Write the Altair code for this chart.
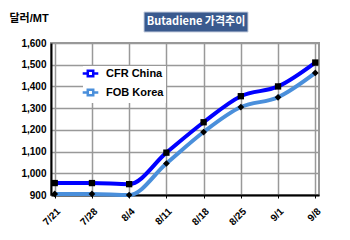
import altair as alt
import pandas as pd

dates = ["7/21", "7/28", "8/4", "8/11", "8/18", "8/25", "9/1", "9/8"]
cfr_china = [955, 955, 950, 1095, 1235, 1355, 1400, 1510]
fob_korea = [905, 905, 900, 1045, 1190, 1305, 1350, 1462]
series_names = ["CFR China", "FOB Korea"]
series_colors = ["#0000FF", "#4A8FDB"]
title_text = "Butadiene 가격추이"
y_unit = "달러/MT"

rows = []
for i, d in enumerate(dates):
    rows.append({"date": d, "series": series_names[0], "value": cfr_china[i]})
    rows.append({"date": d, "series": series_names[1], "value": fob_korea[i]})
df = pd.DataFrame(rows)

FONT = "Liberation Sans, Noto Sans CJK KR"

x_enc = alt.X("date:N", sort=dates, scale=alt.Scale(type="point", padding=0.1),
              axis=alt.Axis(title=None, labelAngle=-45, labelFontWeight="bold",
                            labelFontSize=10, labelFont=FONT, labelColor="#000",
                            labelPadding=8, labelOverlap=False,
                            ticks=True, tickSize=3, tickColor="#000",
                            domainColor="#000", domainWidth=2,
                            grid=True, gridColor="#999", gridWidth=1.5))
y_enc = alt.Y("value:Q", scale=alt.Scale(domain=[900, 1600], nice=False, zero=False),
              axis=alt.Axis(title=y_unit, titleAngle=0, titleAlign="left",
                            titleX=-42, titleY=-20, titleFontSize=11,
                            titleFontWeight="bold", titleFont=FONT, titleColor="#000",
                            values=list(range(900, 1601, 100)), tickCount=8,
                            format=",.0f", labelOverlap=False,
                            labelFontWeight="bold", labelFontSize=10, labelFont=FONT,
                            labelColor="#000", labelPadding=5, ticks=False,
                            domainColor="#000", domainWidth=2,
                            grid=True, gridColor="#999", gridWidth=1.5))

legend_symbol = "M-1.95,0H-0.68M0.68,0H1.95M-0.68,-0.68H0.68V0.68H-0.68Z"

color = alt.Color("series:N", scale=alt.Scale(domain=series_names, range=series_colors),
                  legend=alt.Legend(title=None, orient="none", legendX=32, legendY=23,
                                    symbolType=legend_symbol,
                                    symbolStrokeWidth=2.5, symbolSize=64,
                                    symbolFillColor="white",
                                    labelFontSize=11, labelFontWeight="bold",
                                    labelFont=FONT, labelColor="#000",
                                    fillColor="white", padding=2, rowPadding=2,
                                    labelOffset=10))

lines = alt.Chart(df).mark_line(strokeWidth=4, interpolate="monotone").encode(
    x=x_enc, y=y_enc, color=color, order=alt.Order("series:N"))

pts_cfr = alt.Chart(df[df.series == series_names[0]]).mark_point(
    shape="square", filled=True, color="#000", size=40, opacity=1).encode(
    x=x_enc, y=y_enc)
pts_fob = alt.Chart(df[df.series == series_names[1]]).mark_point(
    shape="diamond", filled=True, color="#000", size=45, opacity=1).encode(
    x=x_enc, y=y_enc)

box_df = pd.DataFrame({"t": [title_text]})
box = alt.Chart(box_df).mark_rect(fill="#3A5A8E", stroke="#C8D0E0", strokeWidth=1).encode(
    x=alt.value(93), x2=alt.value(197), y=alt.value(-31), y2=alt.value(-11))
box_text = alt.Chart(box_df).mark_text(color="white", fontWeight="bold", fontSize=11,
                                       font="Noto Sans CJK KR", align="center",
                                       baseline="middle").encode(
    x=alt.value(145), y=alt.value(-21), text="t:N")

chart = alt.layer(lines, pts_cfr, pts_fob, box, box_text).properties(
    width=268, height=152,
    autosize=alt.AutoSizeParams(type="none"),
    padding={"left": 51, "top": 43, "right": 31, "bottom": 45},
    background="white",
).configure_view(stroke="#999", strokeWidth=2)

chart.save("out.html", embed_options={"renderer": "svg", "actions": False})
